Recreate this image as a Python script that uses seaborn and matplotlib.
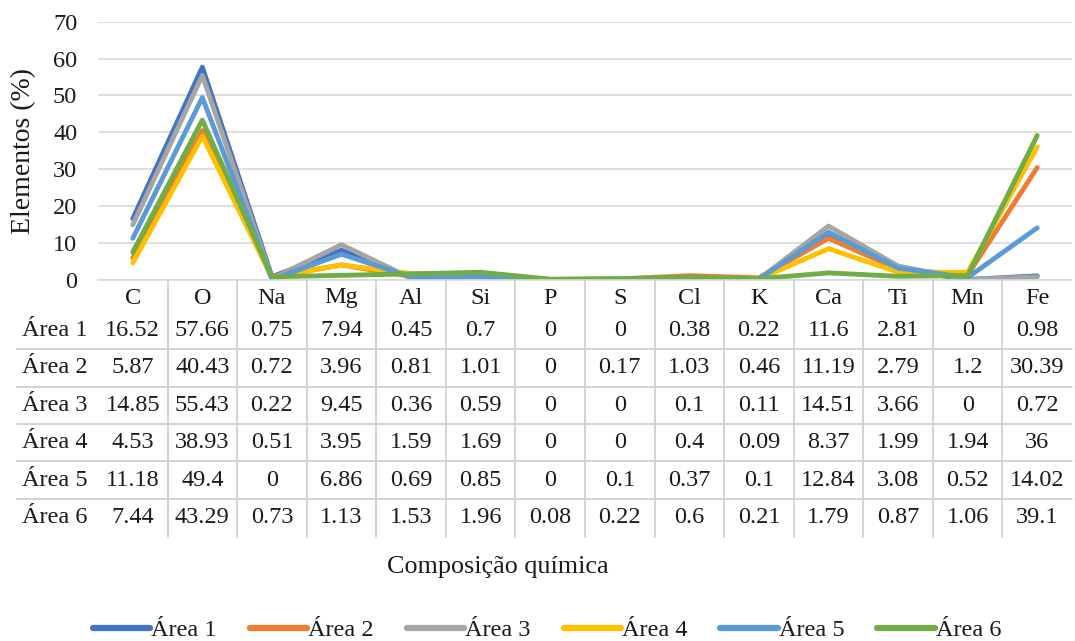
import matplotlib
matplotlib.use("Agg")
import matplotlib.pyplot as plt
import seaborn as sns
import pandas as pd
import numpy as np

# Elemental composition (%) for each analysed area
elements = ["C", "O", "Na", "Mg", "Al", "Si", "P", "S", "Cl", "K", "Ca", "Ti", "Mn", "Fe"]
areas = ["Área 1", "Área 2", "Área 3", "Área 4", "Área 5", "Área 6"]
area1 = [16.52, 57.66, 0.75, 7.94, 0.45, 0.7, 0, 0, 0.38, 0.22, 11.6, 2.81, 0, 0.98]
area2 = [5.87, 40.43, 0.72, 3.96, 0.81, 1.01, 0, 0.17, 1.03, 0.46, 11.19, 2.79, 1.2, 30.39]
area3 = [14.85, 55.43, 0.22, 9.45, 0.36, 0.59, 0, 0, 0.1, 0.11, 14.51, 3.66, 0, 0.72]
area4 = [4.53, 38.93, 0.51, 3.95, 1.59, 1.69, 0, 0, 0.4, 0.09, 8.37, 1.99, 1.94, 36]
area5 = [11.18, 49.4, 0, 6.86, 0.69, 0.85, 0, 0.1, 0.37, 0.1, 12.84, 3.08, 0.52, 14.02]
area6 = [7.44, 43.29, 0.73, 1.13, 1.53, 1.96, 0.08, 0.22, 0.6, 0.21, 1.79, 0.87, 1.06, 39.1]
series = [area1, area2, area3, area4, area5, area6]
yticks = [0, 10, 20, 30, 40, 50, 60, 70]

colors = ["#4472C4", "#ED7D31", "#A5A5A5", "#FFC000", "#5B9BD5", "#70AD47"]
text_color = "#1a1a1a"
grid_color = "#D9D9D9"
table_line = "#D0D0D0"
fs = 17.5

sns.set_theme(style="white")
plt.rcParams["font.family"] = ["Liberation Serif", "DejaVu Serif"]

rows = []
for name, vals in zip(areas, series):
    for i, (el, v) in enumerate(zip(elements, vals)):
        rows.append({"pos": i, "element": el, "area": name, "value": v})
df = pd.DataFrame(rows)

W, H = 1075, 641
fig = plt.figure(figsize=(W / 100, H / 100), dpi=100)

x0, x1 = 98, 1072
y_top, y_zero, y_tab_bot = 21.7, 279.5, 537

ax = fig.add_axes([x0 / W, 1 - y_zero / H, (x1 - x0) / W, (y_zero - y_top) / H])
sns.lineplot(data=df, x="pos", y="value", hue="area", hue_order=areas,
             palette=colors, linewidth=3.5, sort=False, ax=ax, legend=False,
             solid_joinstyle="round", solid_capstyle="round")
ax.set_xlim(-0.5, len(elements) - 0.5)
ax.set_ylim(0, 70)
ax.set_yticks(yticks)
ax.set_yticklabels([str(t) for t in yticks], fontsize=fs, color=text_color)
ax.set_xticks([])
ax.set_xlabel("")
ax.set_ylabel("")
ax.tick_params(axis="y", length=0, pad=15)
ax.grid(axis="y", color=grid_color, linewidth=1.2)
ax.set_axisbelow(True)
for s in ["top", "right", "left"]:
    ax.spines[s].set_visible(False)
ax.spines["bottom"].set_color(grid_color)
ax.spines["bottom"].set_linewidth(1.2)
ax.set_facecolor("none")

# Data table below the plot, columns aligned with the categories
tax = fig.add_axes([x0 / W, 1 - y_tab_bot / H, (x1 - x0) / W, (y_tab_bot - y_zero) / H])
tax.set_xlim(-0.5, len(elements) - 0.5)
tax.set_ylim(y_tab_bot, y_zero)
tax.axis("off")
col_w = (x1 - x0) / len(elements)
left_edge = -0.5 + (17 - x0) / col_w
label_x = -0.5 + (22 - x0) / col_w

header_y = 298
row_h = 37.4
row0 = 330.5
for i, el in enumerate(elements):
    tax.text(i, header_y, el, ha="center", va="center", fontsize=fs, color=text_color)
for r, (name, vals) in enumerate(zip(areas, series)):
    yc = row0 + r * row_h
    tax.text(label_x, yc, name, ha="left", va="center", fontsize=fs,
             color=text_color, clip_on=False)
    for i, v in enumerate(vals):
        tax.text(i, yc, f"{v:g}", ha="center", va="center", fontsize=fs, color=text_color)
for k in range(len(elements) - 1):
    tax.plot([k + 0.5, k + 0.5], [y_zero, y_tab_bot], color=table_line, lw=1.3,
             clip_on=False)
for r in range(len(areas) - 1):
    yl = row0 + r * row_h + row_h / 2
    tax.plot([left_edge, len(elements) - 0.5], [yl, yl], color=table_line, lw=1.3,
             clip_on=False)

fig.text(24 / W, 1 - 151 / H, "Elementos (%)", rotation=90, ha="center", va="center",
         fontsize=20, color=text_color)
fig.text(498 / W, 1 - 567 / H, "Composição química", ha="center", va="center",
         fontsize=18.8, color=text_color)

handles = [plt.Line2D([], [], color=c, lw=4.5, solid_capstyle="round") for c in colors]
fig.legend(handles, areas, loc="center", bbox_to_anchor=(547 / W, 1 - 630 / H),
           ncol=6, frameon=False, fontsize=fs, handlelength=2.35, handletextpad=0.05,
           columnspacing=1.36, labelcolor=text_color)

fig.savefig("out.png", dpi=100)
